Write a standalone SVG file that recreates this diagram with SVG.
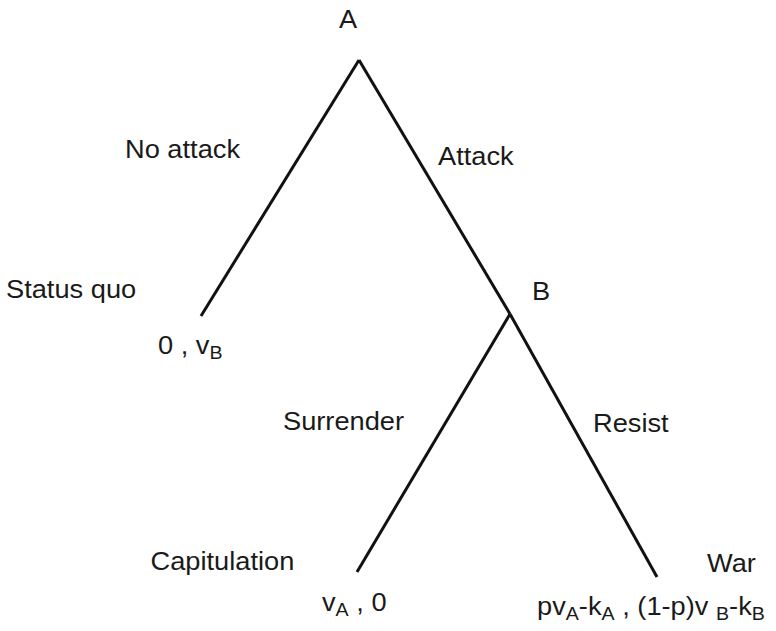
<svg xmlns="http://www.w3.org/2000/svg" width="776" height="631" viewBox="0 0 776 631">
<style>
text{font-family:"Liberation Sans",Arial,sans-serif;font-size:25px;fill:#1a1a1a}
.sub{font-size:18px}
line{stroke:#111;stroke-width:3;stroke-linecap:butt}
</style>
<rect width="776" height="631" fill="#fff"/>
<g id="connectors">
<line x1="359" y1="60" x2="201" y2="316"/>
<line x1="359" y1="60" x2="510" y2="314"/>
<line x1="510" y1="314" x2="357" y2="572"/>
<line x1="510" y1="314" x2="657" y2="577"/>
</g>
<g id="nodeA"><text transform="matrix(1.09 0 0 1 339 28)">A</text></g>
<g id="nodeB"><text transform="matrix(1.09 0 0 1 532 300)">B</text></g>
<g id="labelNoAttack"><text transform="matrix(1.09 0 0 1 125 158)">No attack</text></g>
<g id="labelAttack"><text transform="matrix(1.09 0 0 1 438 165)">Attack</text></g>
<g id="statusQuo"><text transform="matrix(1.09 0 0 1 6 298)">Status quo</text><text transform="matrix(1.09 0 0 1 158 354)">0 , v<tspan class="sub" dy="5">B</tspan></text></g>
<g id="labelSurrender"><text transform="matrix(1.09 0 0 1 283 430)">Surrender</text></g>
<g id="labelResist"><text transform="matrix(1.09 0 0 1 593 432)">Resist</text></g>
<g id="capitulation"><text transform="matrix(1.09 0 0 1 150.5 570)">Capitulation</text><text transform="matrix(1.09 0 0 1 322 611)">v<tspan class="sub" dy="5">A</tspan><tspan dy="-5"> , 0</tspan></text></g>
<g id="war"><text transform="matrix(1.09 0 0 1 707 572)">War</text><text transform="matrix(1.09 0 0 1 537 615)">pv<tspan class="sub" dy="5">A</tspan><tspan dy="-5">-k</tspan><tspan class="sub" dy="5">A</tspan><tspan dy="-5"> , (1-p)v </tspan><tspan class="sub" dy="5">B</tspan><tspan dy="-5">-k</tspan><tspan class="sub" dy="5">B</tspan></text></g>
</svg>
